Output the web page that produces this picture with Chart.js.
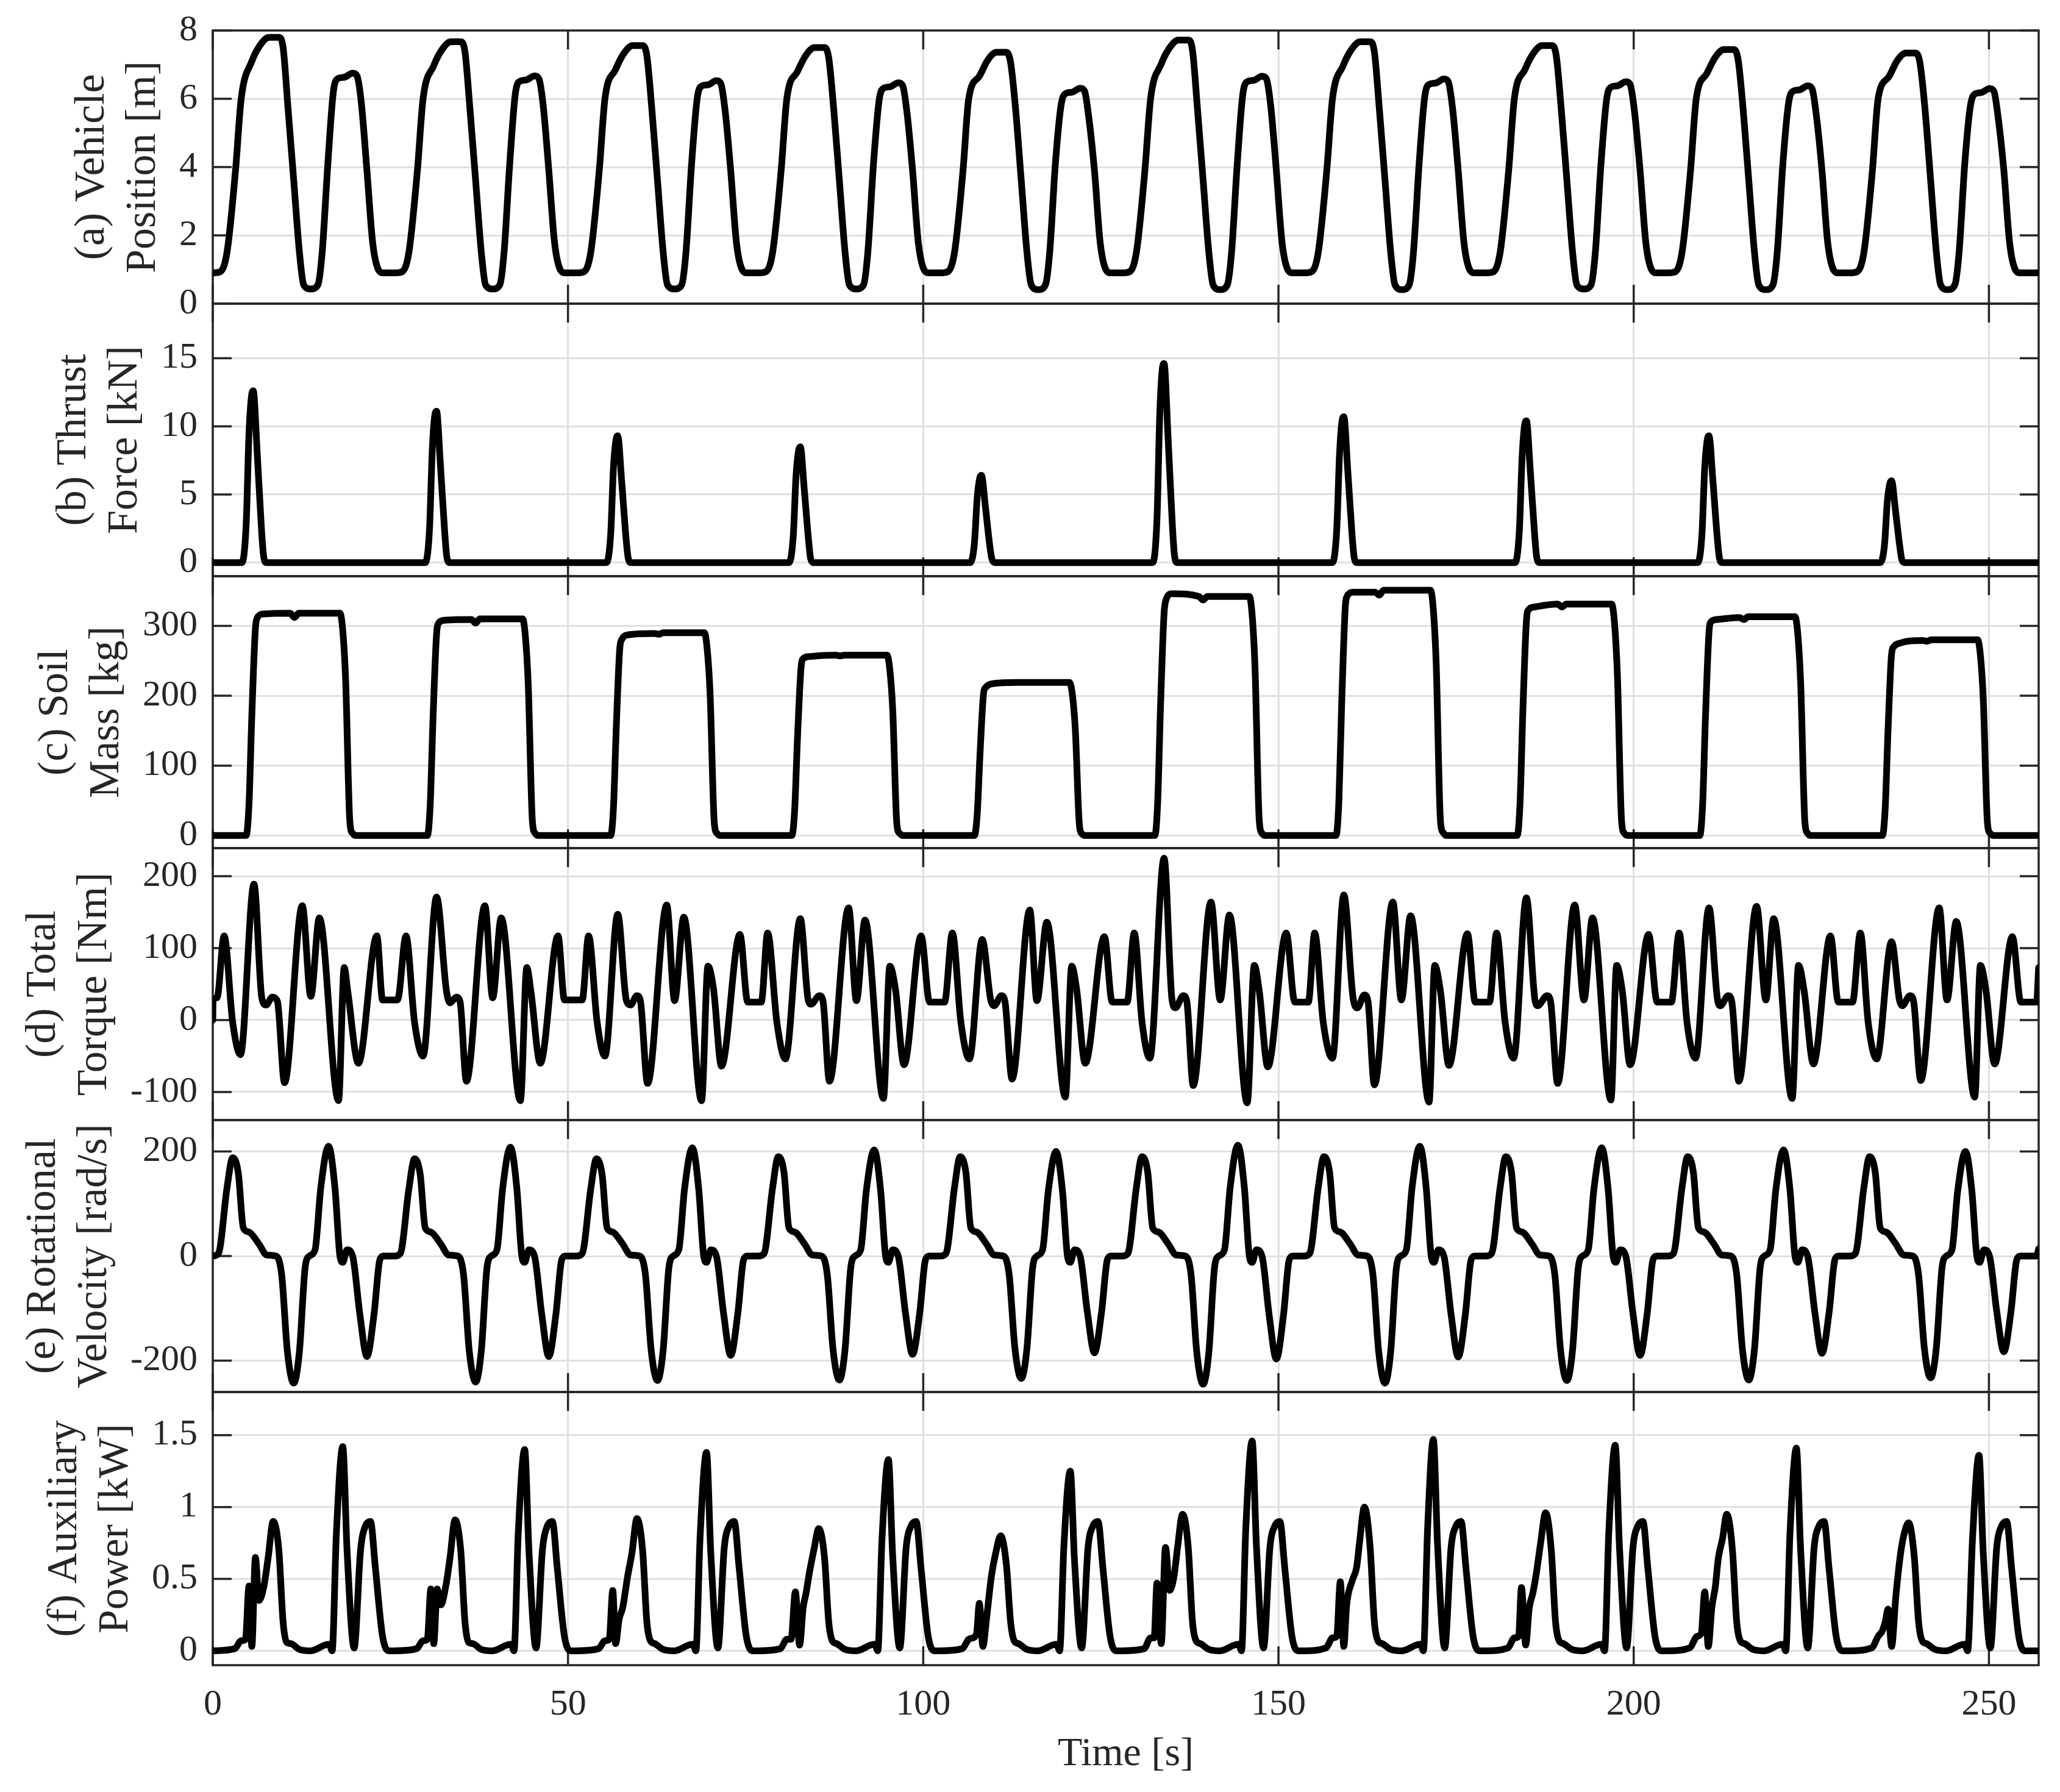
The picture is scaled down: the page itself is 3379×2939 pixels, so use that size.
<!DOCTYPE html>
<html>
<head>
<meta charset="utf-8">
<script src="https://cdn.jsdelivr.net/npm/chart.js@4.4.1/dist/chart.umd.min.js"></script>
<style>
  html, body { margin: 0; padding: 0; background: #fff; overflow: hidden; }
  #wrap { position: relative; width: 3379px; height: 2939px; background: #fff; overflow: hidden; }
  #wrap canvas { position: absolute; left: 0; }
</style>
</head>
<body>
<div id="wrap"></div>
<script>
// ---- data (time in s) ----
const timeTicks = [0, 50, 100, 150, 200, 250];

// (a) vehicle position [m]
const positionTime = [
  0, 1, 2, 3.2, 4, 5.5, 6.7, 7.9, 9.3, 9.9, 10.6, 11.4, 12.2, 12.8, 13.8, 14.8, 15.4, 16.2, 17, 17.7, 18.5, 19.7, 20.3, 20.9, 21.7, 22.5, 23.3, 24,
  25.6, 26.6, 27.6, 28.8, 29.6, 31.1, 32.3, 33.5, 34.9, 35.5, 36.2, 37, 37.8, 38.4, 39.4, 40.4, 41, 41.8, 42.6, 43.3, 44.1, 45.3, 45.9, 46.5, 47.3, 48.1, 48.9, 49.6,
  51.2, 52.2, 53.2, 54.4, 55.2, 56.7, 57.9, 59.1, 60.5, 61.1, 61.8, 62.6, 63.4, 64, 65, 66, 66.6, 67.4, 68.2, 68.9, 69.7, 70.9, 71.5, 72.1, 72.9, 73.7, 74.5, 75.2,
  76.8, 77.8, 78.8, 80, 80.8, 82.3, 83.5, 84.7, 86.1, 86.7, 87.4, 88.2, 89, 89.6, 90.6, 91.6, 92.2, 93, 93.8, 94.5, 95.3, 96.5, 97.1, 97.7, 98.5, 99.3, 100.1, 100.8,
  102.4, 103.4, 104.4, 105.6, 106.4, 107.9, 109.1, 110.3, 111.7, 112.3, 113, 113.8, 114.6, 115.2, 116.2, 117.2, 117.8, 118.6, 119.4, 120.1, 120.9, 122.1, 122.7, 123.3, 124.1, 124.9, 125.7, 126.4,
  128, 129, 130, 131.2, 132, 133.5, 134.7, 135.9, 137.3, 137.9, 138.6, 139.4, 140.2, 140.8, 141.8, 142.8, 143.4, 144.2, 145, 145.7, 146.5, 147.7, 148.3, 148.9, 149.7, 150.5, 151.3, 152,
  153.6, 154.6, 155.6, 156.8, 157.6, 159.1, 160.3, 161.5, 162.9, 163.5, 164.2, 165, 165.8, 166.4, 167.4, 168.4, 169, 169.8, 170.6, 171.3, 172.1, 173.3, 173.9, 174.5, 175.3, 176.1, 176.9, 177.6,
  179.2, 180.2, 181.2, 182.4, 183.2, 184.7, 185.9, 187.1, 188.5, 189.1, 189.8, 190.6, 191.4, 192, 193, 194, 194.6, 195.4, 196.2, 196.9, 197.7, 198.9, 199.5, 200.1, 200.9, 201.7, 202.5, 203.2,
  204.8, 205.8, 206.8, 208, 208.8, 210.3, 211.5, 212.7, 214.1, 214.7, 215.4, 216.2, 217, 217.6, 218.6, 219.6, 220.2, 221, 221.8, 222.5, 223.3, 224.5, 225.1, 225.7, 226.5, 227.3, 228.1, 228.8,
  230.4, 231.4, 232.4, 233.6, 234.4, 235.9, 237.1, 238.3, 239.7, 240.3, 241, 241.8, 242.6, 243.2, 244.2, 245.2, 245.8, 246.6, 247.4, 248.1, 248.9, 250.1, 250.7, 251.3, 252.1, 252.9, 253.7, 254.4,
  257
];
const positionValue = [
  0.9, 0.93, 1.5, 3.9, 6, 7.1, 7.58, 7.8, 7.8, 7.5, 5.7, 3.6, 1.5, 0.55, 0.43, 0.55, 1.5, 4.1, 6.25, 6.6, 6.63, 6.75, 6.67, 5.9, 3.9, 1.8, 1, 0.9,
  0.9, 0.93, 1.5, 3.9, 6, 6.97, 7.45, 7.67, 7.67, 7.37, 5.7, 3.6, 1.5, 0.55, 0.43, 0.55, 1.5, 4.1, 6.17, 6.52, 6.55, 6.67, 6.59, 5.82, 3.9, 1.8, 1, 0.9,
  0.9, 0.93, 1.5, 3.9, 6, 6.86, 7.34, 7.56, 7.56, 7.26, 5.7, 3.6, 1.5, 0.55, 0.43, 0.55, 1.5, 4.1, 6.03, 6.38, 6.41, 6.53, 6.45, 5.68, 3.9, 1.8, 1, 0.9,
  0.9, 0.93, 1.5, 3.9, 6, 6.8, 7.28, 7.5, 7.5, 7.2, 5.7, 3.6, 1.5, 0.55, 0.43, 0.55, 1.5, 4.1, 5.97, 6.32, 6.35, 6.47, 6.39, 5.62, 3.9, 1.8, 1, 0.9,
  0.9, 0.93, 1.5, 3.9, 6, 6.66, 7.14, 7.36, 7.36, 7.06, 5.7, 3.6, 1.5, 0.55, 0.41, 0.55, 1.5, 4.1, 5.81, 6.16, 6.19, 6.31, 6.23, 5.46, 3.9, 1.8, 1, 0.9,
  0.9, 0.93, 1.5, 3.9, 6, 7.02, 7.5, 7.72, 7.72, 7.42, 5.7, 3.6, 1.5, 0.55, 0.41, 0.55, 1.5, 4.1, 6.16, 6.51, 6.54, 6.66, 6.58, 5.81, 3.9, 1.8, 1, 0.9,
  0.9, 0.93, 1.5, 3.9, 6, 6.97, 7.45, 7.67, 7.67, 7.37, 5.7, 3.6, 1.5, 0.55, 0.41, 0.55, 1.5, 4.1, 6.08, 6.43, 6.46, 6.58, 6.5, 5.73, 3.9, 1.8, 1, 0.9,
  0.9, 0.93, 1.5, 3.9, 6, 6.86, 7.34, 7.56, 7.56, 7.26, 5.7, 3.6, 1.5, 0.55, 0.43, 0.55, 1.5, 4.1, 6, 6.35, 6.38, 6.5, 6.42, 5.65, 3.9, 1.8, 1, 0.9,
  0.9, 0.93, 1.5, 3.9, 6, 6.74, 7.22, 7.44, 7.44, 7.14, 5.7, 3.6, 1.5, 0.55, 0.41, 0.55, 1.5, 4.1, 5.88, 6.23, 6.26, 6.38, 6.3, 5.53, 3.9, 1.8, 1, 0.9,
  0.9, 0.93, 1.5, 3.9, 6, 6.64, 7.12, 7.34, 7.34, 7.04, 5.7, 3.6, 1.5, 0.55, 0.41, 0.55, 1.5, 4.1, 5.8, 6.15, 6.18, 6.3, 6.22, 5.45, 3.9, 1.8, 1, 0.9,
  0.9
];

// (b) thrust force [kN]
const thrustTime = [
  0,
  4.1, 4.7, 5.1, 5.45, 5.7, 6.25, 6.85, 7.15, 7.55,
  29.9, 30.5, 30.9, 31.25, 31.5, 32.05, 32.65, 32.95, 33.35,
  55.4, 56, 56.4, 56.75, 57, 57.55, 58.15, 58.45, 58.85,
  81.1, 81.7, 82.1, 82.45, 82.7, 83.25, 83.85, 84.15, 84.55,
  106.6, 107.2, 107.6, 107.95, 108.2, 108.75, 109.35, 109.65, 110.05,
  132.3, 132.9, 133.3, 133.65, 133.9, 134.45, 135.05, 135.35, 135.75,
  157.6, 158.2, 158.6, 158.95, 159.2, 159.75, 160.35, 160.65, 161.05,
  183.3, 183.9, 184.3, 184.65, 184.9, 185.45, 186.05, 186.35, 186.75,
  209, 209.6, 210, 210.35, 210.6, 211.15, 211.75, 212.05, 212.45,
  234.7, 235.3, 235.7, 236.05, 236.3, 236.85, 237.45, 237.75, 238.15,
  257
];
const thrustValue = [
  0,
  0, 2.8, 9.5, 12.2, 12.6, 8.1, 2.5, 0.5, 0,
  0, 2.4, 8.3, 10.8, 11.1, 7.1, 2.2, 0.4, 0,
  0, 2, 7, 9, 9.3, 6, 1.9, 0.4, 0,
  0, 1.9, 6.4, 8.2, 8.5, 5.4, 1.7, 0.3, 0,
  0, 1.4, 4.8, 6.2, 6.4, 4.1, 1.3, 0.3, 0,
  0, 3.2, 11, 14.2, 14.6, 9.3, 2.9, 0.6, 0,
  0, 2.4, 8, 10.4, 10.7, 6.8, 2.1, 0.4, 0,
  0, 2.3, 7.8, 10.1, 10.4, 6.7, 2.1, 0.4, 0,
  0, 2, 7, 9, 9.3, 6, 1.9, 0.4, 0,
  0, 1.3, 4.5, 5.8, 6, 3.8, 1.2, 0.2, 0,
  0
];

// (c) soil mass [kg]
const soilTime = [
  0,
  4.7, 5.1, 5.5, 6, 6.3, 7.1, 10.9, 11.5, 12.1, 17.9, 18.3, 18.7, 19.3, 19.7, 20.1,
  30.2, 30.6, 31, 31.5, 31.8, 32.6, 36.4, 37, 37.6, 43.6, 44, 44.4, 45, 45.4, 45.8,
  56, 56.4, 56.8, 57.3, 57.6, 58.4, 62.2, 62.8, 63.4, 69.2, 69.6, 70, 70.6, 71, 71.4,
  81.5, 81.9, 82.3, 82.8, 83.1, 83.9, 87.7, 88.3, 88.9, 94.9, 95.3, 95.7, 96.3, 96.7, 97.1,
  107.2, 107.6, 108, 108.5, 108.8, 109.6, 113.4, 114, 114.6, 120.6, 121, 121.4, 122, 122.4, 122.8,
  132.6, 133, 133.4, 133.9, 134.2, 135, 138.8, 139.4, 140, 145.9, 146.3, 146.7, 147.3, 147.7, 148.1,
  158.1, 158.5, 158.9, 159.4, 159.7, 160.5, 163.6, 164.2, 164.8, 171.4, 171.8, 172.2, 172.8, 173.2, 173.6,
  183.6, 184, 184.4, 184.9, 185.2, 186, 189.3, 189.9, 190.5, 196.9, 197.3, 197.7, 198.3, 198.7, 199.1,
  209.3, 209.7, 210.1, 210.6, 210.9, 211.7, 214.9, 215.5, 216.1, 222.7, 223.1, 223.5, 224.1, 224.5, 224.9,
  235, 235.4, 235.8, 236.3, 236.6, 237.4, 240.7, 241.3, 241.9, 248.4, 248.8, 249.2, 249.8, 250.2, 250.6,
  257
];
const soilValue = [
  0,
  0, 45, 172, 296, 312, 317, 318, 312, 318, 318, 293, 223, 19, 3, 0,
  0, 43, 167, 288, 304, 308, 309, 304, 310, 310, 285, 217, 19, 3, 0,
  0, 40, 156, 269, 281, 287, 289, 288, 290, 290, 266, 203, 17, 3, 0,
  0, 36, 139, 240, 253, 256, 258, 257, 258, 258, 237, 181, 15, 3, 0,
  0, 31, 118, 204, 212, 217, 219, 219, 219, 219, 201, 153, 13, 2, 0,
  0, 48, 185, 318, 338, 346, 342, 337, 342, 342, 315, 240, 21, 3, 0,
  0, 49, 189, 326, 343, 348, 348, 344, 351, 351, 323, 246, 21, 4, 0,
  0, 46, 178, 307, 323, 327, 331, 327, 331, 331, 304, 231, 20, 3, 0,
  0, 44, 169, 291, 306, 309, 312, 309, 313, 313, 288, 219, 19, 3, 0,
  0, 39, 151, 260, 270, 275, 279, 278, 280, 280, 258, 196, 17, 3, 0,
  0
];

// (d) total torque [Nm]
const torqueTime = [
  0, 0.05, 0.6, 1.6, 2.8, 3.9, 5.8, 6.9, 7.5, 8.4, 9.1, 10.1, 12.6, 13.8, 15, 17.7, 18.5, 19, 20.5, 23.1, 23.9, 26,
  27.2, 28.4, 29.6, 31.5, 32.9, 33.4, 34.3, 34.8, 35.7, 38.3, 39.4, 40.6, 43.3, 44.2, 44.8, 46.1, 48.6, 49.5, 52,
  52.9, 54.1, 55.2, 57, 58.2, 58.8, 59.7, 60.2, 61.2, 63.9, 65, 66.3, 68.8, 69.7, 70.5, 71.6, 74.2, 75.3, 77.2,
  78.1, 79.4, 80.6, 82.7, 83.8, 84.2, 85.4, 85.9, 86.8, 89.5, 90.6, 91.8, 94.4, 95.3, 96.1, 97.3, 99.7, 100.9, 103,
  104.1, 105.3, 106.5, 108.3, 109.5, 110, 111, 111.5, 112.5, 115, 116, 117.4, 120, 120.9, 121.6, 122.8, 125.5, 126.6, 128.7,
  129.7, 130.8, 131.9, 133.9, 135, 135.5, 136.6, 137.1, 138, 140.5, 141.8, 143.1, 145.6, 146.6, 147.3, 148.5, 151.1, 152.3, 154.2,
  155.1, 156.3, 157.6, 159.2, 160.5, 161.1, 162.1, 162.6, 163.5, 166.1, 167.3, 168.6, 171.2, 172, 172.8, 174, 176.6, 177.7, 179.7,
  180.7, 181.9, 183.1, 184.9, 186.1, 186.5, 187.8, 188.3, 189.3, 191.7, 193, 194.2, 196.8, 197.6, 198.4, 199.5, 202.1, 203.3, 205.3,
  206.4, 207.5, 208.7, 210.6, 211.8, 212.2, 213.3, 213.8, 214.8, 217.3, 218.6, 219.7, 222.3, 223.2, 224, 225.3, 227.7, 228.8, 230.8,
  231.9, 233, 234.2, 236.3, 237.4, 237.8, 238.9, 239.4, 240.4, 243, 244.1, 245.4, 248, 248.8, 249.6, 250.8, 253.3, 254.5, 256.7, 257
];
const torqueValue = [
  0, 28, 31, 117, -3, -48, 189, 31, 21, 32, 26, -87, 159, 33, 142, -112, 73, 40, -60, 117, 28, 28,
  117, -3, -50, 171, 40, 24, 32, 26, -85, 159, 31, 142, -112, 73, 38, -60, 117, 28, 28,
  117, -3, -50, 147, 28, 21, 34, 26, -88, 160, 27, 143, -112, 75, 42, -64, 119, 25, 25,
  121, -3, -54, 141, 28, 22, 34, 26, -85, 156, 27, 139, -109, 75, 42, -62, 117, 25, 25,
  121, -3, -54, 112, 28, 20, 34, 26, -82, 153, 27, 136, -107, 75, 42, -60, 116, 25, 25,
  121, -3, -53, 225, 30, 17, 34, 26, -91, 164, 28, 146, -115, 76, 40, -65, 121, 25, 25,
  121, -3, -53, 174, 31, 17, 35, 26, -90, 164, 28, 145, -114, 76, 40, -63, 120, 25, 25,
  121, -3, -53, 170, 28, 20, 34, 26, -88, 160, 28, 142, -111, 76, 40, -62, 119, 25, 25,
  121, -3, -53, 156, 28, 20, 34, 26, -85, 158, 28, 141, -109, 76, 40, -61, 117, 25, 25,
  121, -3, -54, 109, 28, 20, 34, 26, -84, 156, 28, 137, -107, 76, 40, -61, 116, 25, 25, 73
];

// (e) rotational velocity [rad/s]
const speedTime = [
  0, 0.8, 2, 2.8, 3.6, 4.3, 5.1, 6.5, 7.6, 8.9, 9.7, 10.5, 11.4, 12.2, 13, 13.6, 14.4, 15.2, 16.3, 17.2, 17.9, 18.3, 18.9, 19.7, 20.7, 21.7, 22.7, 23.5, 24,
  25.6, 26.4, 27.6, 28.4, 29.2, 29.9, 30.7, 32.1, 33.2, 34.5, 35.3, 36.1, 37, 37.8, 38.6, 39.2, 40, 40.8, 41.9, 42.8, 43.5, 43.9, 44.5, 45.3, 46.3, 47.3, 48.3, 49.1, 49.6,
  51.2, 52, 53.2, 54, 54.8, 55.5, 56.3, 57.7, 58.8, 60.1, 60.9, 61.7, 62.6, 63.4, 64.2, 64.8, 65.6, 66.4, 67.5, 68.4, 69.1, 69.5, 70.1, 70.9, 71.9, 72.9, 73.9, 74.7, 75.2,
  76.8, 77.6, 78.8, 79.6, 80.4, 81.1, 81.9, 83.3, 84.4, 85.7, 86.5, 87.3, 88.2, 89, 89.8, 90.4, 91.2, 92, 93.1, 94, 94.7, 95.1, 95.7, 96.5, 97.5, 98.5, 99.5, 100.3, 100.8,
  102.4, 103.2, 104.4, 105.2, 106, 106.7, 107.5, 108.9, 110, 111.3, 112.1, 112.9, 113.8, 114.6, 115.4, 116, 116.8, 117.6, 118.7, 119.6, 120.3, 120.7, 121.3, 122.1, 123.1, 124.1, 125.1, 125.9, 126.4,
  128, 128.8, 130, 130.8, 131.6, 132.3, 133.1, 134.5, 135.6, 136.9, 137.7, 138.5, 139.4, 140.2, 141, 141.6, 142.4, 143.2, 144.3, 145.2, 145.9, 146.3, 146.9, 147.7, 148.7, 149.7, 150.7, 151.5, 152,
  153.6, 154.4, 155.6, 156.4, 157.2, 157.9, 158.7, 160.1, 161.2, 162.5, 163.3, 164.1, 165, 165.8, 166.6, 167.2, 168, 168.8, 169.9, 170.8, 171.5, 171.9, 172.5, 173.3, 174.3, 175.3, 176.3, 177.1, 177.6,
  179.2, 180, 181.2, 182, 182.8, 183.5, 184.3, 185.7, 186.8, 188.1, 188.9, 189.7, 190.6, 191.4, 192.2, 192.8, 193.6, 194.4, 195.5, 196.4, 197.1, 197.5, 198.1, 198.9, 199.9, 200.9, 201.9, 202.7, 203.2,
  204.8, 205.6, 206.8, 207.6, 208.4, 209.1, 209.9, 211.3, 212.4, 213.7, 214.5, 215.3, 216.2, 217, 217.8, 218.4, 219.2, 220, 221.1, 222, 222.7, 223.1, 223.7, 224.5, 225.5, 226.5, 227.5, 228.3, 228.8,
  230.4, 231.2, 232.4, 233.2, 234, 234.7, 235.5, 236.9, 238, 239.3, 240.1, 240.9, 241.8, 242.6, 243.4, 244, 244.8, 245.6, 246.7, 247.6, 248.3, 248.7, 249.3, 250.1, 251.1, 252.1, 253.1, 253.9, 254.4,
  256.7, 257
];
const speedValue = [
  0, 5, 130, 188, 158, 54, 46, 23, 2, 0, -36, -182, -243, -182, -22, 0, 12, 130, 210, 130, 0, -12, 12, -1, -111, -192, -111, -8, 0,
  0, 5, 128, 186, 156, 54, 46, 23, 2, 0, -36, -181, -241, -181, -22, 0, 12, 129, 208, 129, 0, -12, 12, -1, -111, -192, -111, -8, 0,
  0, 5, 128, 186, 156, 54, 46, 23, 2, 0, -36, -179, -238, -179, -22, 0, 12, 128, 207, 128, 0, -12, 12, -1, -110, -190, -110, -8, 0,
  0, 5, 131, 190, 160, 54, 46, 23, 2, 0, -36, -178, -237, -178, -22, 0, 12, 126, 203, 126, 0, -12, 12, -1, -109, -188, -109, -8, 0,
  0, 5, 131, 190, 160, 54, 46, 23, 2, 0, -36, -176, -234, -176, -22, 0, 12, 124, 200, 124, 0, -12, 12, -1, -107, -185, -107, -8, 0,
  0, 5, 131, 190, 160, 54, 46, 23, 2, 0, -36, -184, -245, -184, -22, 0, 12, 131, 212, 131, 0, -12, 12, -1, -114, -197, -114, -8, 0,
  0, 5, 131, 190, 160, 54, 46, 23, 2, 0, -36, -182, -243, -182, -22, 0, 12, 130, 210, 130, 0, -12, 12, -1, -112, -193, -112, -8, 0,
  0, 5, 131, 190, 160, 54, 46, 23, 2, 0, -36, -179, -238, -179, -22, 0, 12, 128, 207, 128, 0, -12, 12, -1, -110, -190, -110, -8, 0,
  0, 5, 131, 190, 160, 54, 46, 23, 2, 0, -36, -178, -237, -178, -22, 0, 12, 126, 203, 126, 0, -12, 12, -1, -108, -186, -108, -8, 0,
  0, 5, 131, 190, 160, 54, 46, 23, 2, 0, -36, -175, -233, -175, -22, 0, 12, 124, 200, 124, 0, -12, 12, -1, -106, -183, -106, -8, 0,
  0, 14
];

// (f) auxiliary power [kW]
const powerTime = [
  0, 3.1, 4, 4.6, 5.1, 5.5, 6, 6.5, 7.2, 7.8, 8.5, 9.3, 9.9, 10.4, 11, 12.2, 13.8, 15.8, 16.4, 16.8, 17.4, 18.3, 18.9, 19.9, 20.8, 21.5, 22.2, 22.9, 23.9, 24.8,
  25.6, 28.7, 29.6, 30.2, 30.7, 31.1, 31.6, 32.1, 32.8, 33.4, 34.1, 34.9, 35.5, 36, 36.6, 37.8, 39.4, 41.4, 42, 42.4, 43, 43.9, 44.5, 45.5, 46.4, 47.1, 47.8, 48.5, 49.5, 50.4,
  51.2, 54.3, 55.2, 55.8, 56.3, 56.7, 57.2, 57.7, 58.4, 59, 59.7, 60.5, 61.1, 61.6, 62.2, 63.4, 65, 67, 67.6, 68, 68.6, 69.5, 70.1, 71.1, 72, 72.7, 73.4, 74.1, 75.1, 76,
  76.8, 79.9, 80.8, 81.4, 82, 82.6, 83.1, 83.5, 84, 84.6, 85.3, 86.1, 86.7, 87.2, 87.8, 89, 90.6, 92.6, 93.2, 93.6, 94.2, 95.1, 95.7, 96.7, 97.6, 98.3, 99, 99.7, 100.7, 101.6,
  102.4, 105.5, 106.4, 107, 107.5, 107.9, 108.4, 108.9, 109.6, 110.2, 110.9, 111.7, 112.3, 112.8, 113.4, 114.6, 116.2, 118.2, 118.8, 119.2, 119.8, 120.7, 121.3, 122.3, 123.2, 123.9, 124.6, 125.3, 126.3, 127.2,
  128, 131.1, 132, 132.5, 132.9, 133.5, 134.1, 134.7, 135.3, 135.8, 136.5, 137.3, 137.9, 138.4, 139, 140.2, 141.8, 143.8, 144.4, 144.8, 145.4, 146.3, 146.9, 147.9, 148.8, 149.5, 150.2, 150.9, 151.9, 152.8,
  153.6, 156.7, 157.6, 158.2, 158.7, 159.2, 159.6, 160.4, 161, 161.4, 162.1, 162.9, 163.5, 164, 164.6, 165.8, 167.4, 169.4, 170, 170.4, 171, 171.8, 172.4, 173.4, 174.3, 175, 175.7, 176.4, 177.4, 178.3,
  179.2, 182.3, 183.2, 183.8, 184.2, 184.8, 185.3, 185.8, 186.3, 186.9, 187.6, 188.4, 189, 189.5, 190.1, 191.3, 192.9, 194.9, 195.5, 195.9, 196.5, 197.4, 198, 199, 199.9, 200.6, 201.3, 202, 203, 203.9,
  204.8, 207.9, 208.9, 209.5, 210, 210.5, 211, 211.5, 211.9, 212.5, 213.1, 213.9, 214.5, 215, 215.6, 216.8, 218.4, 220.4, 221, 221.4, 222, 222.9, 223.5, 224.5, 225.4, 226.1, 226.8, 227.5, 228.5, 229.4,
  230.4, 233.5, 234.4, 235, 235.4, 235.8, 236.3, 236.9, 237.6, 238.1, 238.7, 239.5, 240.1, 240.6, 241.2, 242.4, 244, 246, 246.6, 247, 247.7, 248.6, 249.2, 250.2, 251.1, 251.8, 252.5, 253.2, 254.2, 255,
  257
];
const powerValue = [
  0, 0.015, 0.07, 0.08, 0.45, 0.03, 0.65, 0.35, 0.45, 0.65, 0.9, 0.7, 0.2, 0.06, 0.05, 0.01, 0, 0.04, 0.045, 0, 0.82, 1.42, 0.7, 0.02, 0.7, 0.87, 0.9, 0.57, 0.1, 0,
  0, 0.015, 0.07, 0.08, 0.43, 0.05, 0.43, 0.32, 0.45, 0.65, 0.91, 0.7, 0.2, 0.06, 0.05, 0.01, 0, 0.04, 0.045, 0, 0.82, 1.4, 0.7, 0.02, 0.7, 0.87, 0.9, 0.57, 0.1, 0,
  0, 0.015, 0.07, 0.08, 0.42, 0.05, 0.22, 0.3, 0.52, 0.68, 0.92, 0.7, 0.2, 0.07, 0.05, 0.01, 0, 0.04, 0.045, 0, 0.8, 1.38, 0.68, 0.02, 0.72, 0.87, 0.9, 0.57, 0.1, 0,
  0, 0.015, 0.08, 0.08, 0.41, 0.04, 0.3, 0.4, 0.55, 0.7, 0.85, 0.65, 0.2, 0.07, 0.05, 0.01, 0, 0.04, 0.045, 0, 0.78, 1.33, 0.66, 0.02, 0.72, 0.87, 0.9, 0.57, 0.1, 0,
  0, 0.015, 0.08, 0.09, 0.12, 0.33, 0.03, 0.22, 0.52, 0.68, 0.8, 0.6, 0.2, 0.07, 0.05, 0.01, 0, 0.04, 0.045, 0, 0.73, 1.25, 0.62, 0.02, 0.72, 0.87, 0.9, 0.57, 0.1, 0,
  0, 0.015, 0.09, 0.09, 0.47, 0.05, 0.72, 0.42, 0.52, 0.72, 0.95, 0.72, 0.2, 0.07, 0.05, 0.01, 0, 0.04, 0.045, 0, 0.85, 1.46, 0.73, 0.02, 0.72, 0.87, 0.9, 0.57, 0.1, 0,
  0, 0.02, 0.09, 0.1, 0.48, 0.03, 0.32, 0.49, 0.58, 0.75, 1, 0.72, 0.2, 0.07, 0.05, 0.01, 0, 0.04, 0.045, 0, 0.86, 1.47, 0.73, 0.02, 0.72, 0.87, 0.9, 0.57, 0.1, 0,
  0, 0.02, 0.09, 0.1, 0.44, 0.04, 0.3, 0.4, 0.54, 0.75, 0.96, 0.7, 0.2, 0.07, 0.05, 0.01, 0, 0.04, 0.045, 0, 0.83, 1.43, 0.72, 0.02, 0.72, 0.87, 0.9, 0.57, 0.1, 0,
  0, 0.02, 0.1, 0.12, 0.41, 0.03, 0.3, 0.45, 0.64, 0.78, 0.95, 0.7, 0.2, 0.07, 0.05, 0.01, 0, 0.04, 0.045, 0, 0.82, 1.41, 0.7, 0.02, 0.72, 0.87, 0.9, 0.57, 0.1, 0,
  0, 0.02, 0.1, 0.14, 0.2, 0.29, 0.03, 0.38, 0.69, 0.82, 0.89, 0.65, 0.2, 0.07, 0.05, 0.01, 0, 0.04, 0.045, 0, 0.79, 1.36, 0.68, 0.02, 0.72, 0.87, 0.9, 0.57, 0.1, 0,
  0
];

// ---- layout (page pixels) ----
const PAGE_W = 3379, PAGE_H = 2939;
const PLOT_LEFT = 349, PLOT_RIGHT = 3344, PLOT_BOTTOM = 2731;
const panelTop = [50, 498, 945, 1391, 1837, 2283];
const PAD = 70;            // room for the first/last y tick labels
const TICK_LEN = 31;
const TICK_PAD = 25;
const TICK_SIZE = 60;
const TITLE_SIZE = 70;
const FONT = "'Liberation Serif', 'Times New Roman', serif";
const TEXT = '#262626';
const GRID = '#e0e0e0';

const panels = [
  { title: ['(a) Vehicle', 'Position [m]'], t: positionTime, v: positionValue, min: 0, max: 8, ticks: [0, 2, 4, 6, 8] },
  { title: ['(b) Thrust', 'Force [kN]'], t: thrustTime, v: thrustValue, min: -1, max: 19, ticks: [0, 5, 10, 15] },
  { title: ['(c) Soil', 'Mass [kg]'], t: soilTime, v: soilValue, min: -18, max: 371, ticks: [0, 100, 200, 300] },
  { title: ['(d) Total', 'Torque [Nm]'], t: torqueTime, v: torqueValue, min: -139, max: 239, ticks: [-100, 0, 100, 200] },
  { title: ['(e) Rotational', 'Velocity [rad/s]'], t: speedTime, v: speedValue, min: -260, max: 260, ticks: [-200, 0, 200] },
  { title: ['(f) Auxiliary', 'Power [kW]'], t: powerTime, v: powerValue, min: -0.1, max: 1.8, ticks: [0, 0.5, 1, 1.5] }
];

// the y label sits just left of the widest tick label, like MATLAB does
const measure = document.createElement('canvas').getContext('2d');
measure.font = TICK_SIZE + 'px ' + FONT;
function titlePadding(ticks) {
  const widest = Math.max(...ticks.map(v => measure.measureText(String(v)).width));
  const secondLine = PLOT_LEFT - TICK_PAD - widest - 58;
  return Math.max(0, secondLine - TITLE_SIZE * 1.2 * 1.5);
}

// box round the plot area with inward ticks on all four sides
const axesBox = {
  id: 'axesBox',
  beforeDatasetsDraw(chart) {
    const { ctx, chartArea: a, scales: { x, y } } = chart;
    ctx.save();
    ctx.strokeStyle = TEXT;
    ctx.lineWidth = 3.5;
    ctx.beginPath();
    x.ticks.forEach(t => {
      const px = x.getPixelForValue(t.value);
      ctx.moveTo(px, a.top); ctx.lineTo(px, a.top + TICK_LEN);
      ctx.moveTo(px, a.bottom); ctx.lineTo(px, a.bottom - TICK_LEN);
    });
    y.ticks.forEach(t => {
      const py = y.getPixelForValue(t.value);
      ctx.moveTo(a.left, py); ctx.lineTo(a.left + TICK_LEN, py);
      ctx.moveTo(a.right, py); ctx.lineTo(a.right - TICK_LEN, py);
    });
    ctx.stroke();
    ctx.strokeRect(a.left, a.top, a.right - a.left, a.bottom - a.top);
    ctx.restore();
  }
};

const wrap = document.getElementById('wrap');

panels.forEach((p, i) => {
  if (p.t.length !== p.v.length) console.error('length mismatch in panel', i, p.t.length, p.v.length);
  const isLast = i === panels.length - 1;
  const top = panelTop[i];
  const bottom = isLast ? PLOT_BOTTOM : panelTop[i + 1];
  const canvasTop = top - PAD;
  const canvasH = isLast ? PAGE_H - canvasTop : (bottom - top) + 2 * PAD;

  const canvas = document.createElement('canvas');
  canvas.width = PAGE_W;
  canvas.height = canvasH;
  canvas.style.top = canvasTop + 'px';
  canvas.style.width = PAGE_W + 'px';
  canvas.style.height = canvasH + 'px';
  wrap.appendChild(canvas);

  new Chart(canvas, {
    type: 'line',
    data: {
      datasets: [{
        data: p.t.map((x, k) => ({ x: x, y: p.v[k] })),
        borderColor: '#000',
        borderWidth: 11,
        pointRadius: 0,
        cubicInterpolationMode: 'monotone',
        borderJoinStyle: 'round',
        borderCapStyle: 'round',
        fill: false
      }]
    },
    options: {
      responsive: false,
      animation: false,
      devicePixelRatio: 1,
      layout: { padding: { left: 0, right: PAGE_W - PLOT_RIGHT, top: PAD, bottom: isLast ? 0 : PAD } },
      plugins: { legend: { display: false }, tooltip: { enabled: false } },
      scales: {
        x: {
          type: 'linear',
          min: 0,
          max: 257,
          afterBuildTicks: s => { s.ticks = timeTicks.map(v => ({ value: v })); },
          afterFit: s => { s.height = isLast ? PAGE_H - PLOT_BOTTOM : 0; },
          grid: { color: GRID, lineWidth: 3, drawTicks: false, tickLength: 0 },
          border: { display: false },
          ticks: {
            display: isLast,
            padding: 29,
            maxRotation: 0,
            color: TEXT,
            font: { family: FONT, size: TICK_SIZE },
            callback: v => String(v)
          },
          title: {
            display: isLast,
            text: 'Time [s]',
            color: TEXT,
            font: { family: FONT, size: 66 },
            padding: { top: 0, bottom: 22 }
          }
        },
        y: {
          min: p.min,
          max: p.max,
          afterBuildTicks: s => { s.ticks = p.ticks.map(v => ({ value: v })); },
          afterFit: s => { s.width = PLOT_LEFT; },
          grid: { color: GRID, lineWidth: 3, drawTicks: false, tickLength: 0 },
          border: { display: false },
          ticks: {
            padding: TICK_PAD,
            color: TEXT,
            font: { family: FONT, size: TICK_SIZE },
            callback: v => String(v)
          },
          title: {
            display: true,
            text: p.title,
            color: TEXT,
            font: { family: FONT, size: TITLE_SIZE, lineHeight: 1.2 },
            padding: { top: titlePadding(p.ticks), bottom: 0 }
          }
        }
      }
    },
    plugins: [axesBox]
  });
});
</script>
</body>
</html>
